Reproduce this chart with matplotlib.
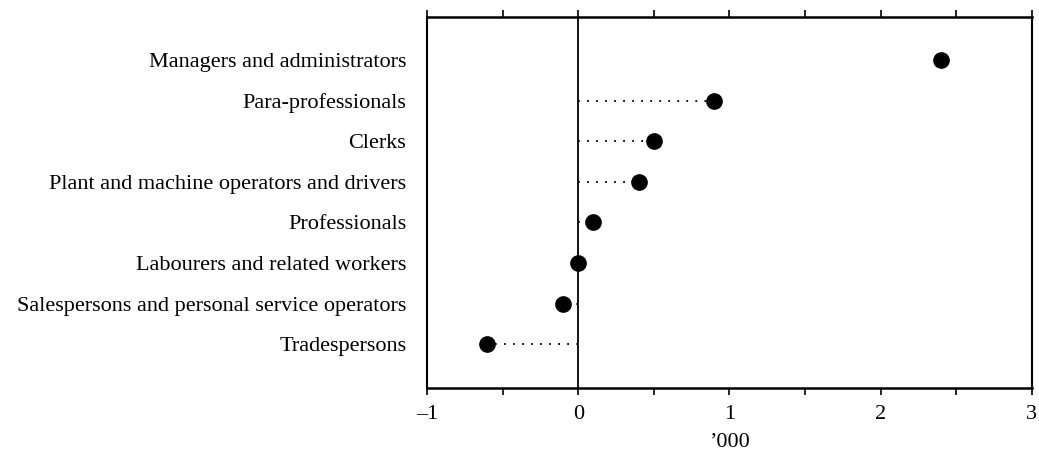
import matplotlib
matplotlib.use("Agg")
import matplotlib.pyplot as plt
from matplotlib.ticker import MultipleLocator

categories = [
    "Managers and administrators",
    "Para-professionals",
    "Clerks",
    "Plant and machine operators and drivers",
    "Professionals",
    "Labourers and related workers",
    "Salespersons and personal service operators",
    "Tradespersons",
]
values = [2.4, 0.9, 0.5, 0.4, 0.1, 0.0, -0.1, -0.6]
show_line = [False, True, True, True, True, True, True, True]
xticks = [-1, 0, 1, 2, 3]
xtick_labels = ["\u20131", "0", "1", "2", "3"]
xlabel = "\u2019000"

plt.rcParams["font.family"] = ["Liberation Serif", "DejaVu Serif"]

fig = plt.figure(figsize=(10.39, 4.54), dpi=100)
ax = fig.add_axes([0.411, 0.1454, 0.582, 0.8172])

ypos = list(range(len(categories)))
ax.axvline(0, color="black", lw=1.3, zorder=1)
for y, v, s in zip(ypos, values, show_line):
    if s:
        ax.plot([0, v], [y, y], color="black", lw=1.3, linestyle=(0, (1, 4)), zorder=2)
ax.plot(values, ypos, "o", color="black", markersize=11, zorder=3)

ax.set_xlim(-1, 3)
ax.set_ylim(len(categories) - 1 + 1.08, -1.06)
ax.set_yticks(ypos)
ax.set_yticklabels(categories, fontsize=16)
ax.tick_params(axis="y", length=0, pad=15)
ax.set_xticks(xticks)
ax.set_xticklabels(xtick_labels, fontsize=16)
ax.xaxis.set_minor_locator(MultipleLocator(0.5))
ax.tick_params(axis="x", which="both", direction="out", length=5, width=1.2,
               top=True, bottom=True, pad=7)
ax.set_xlabel(xlabel, fontsize=16, labelpad=7)
for side in ["top", "bottom"]:
    ax.spines[side].set_linewidth(1.8)
for side in ["left", "right"]:
    ax.spines[side].set_linewidth(1.5)

fig.savefig("out.png", dpi=100)
